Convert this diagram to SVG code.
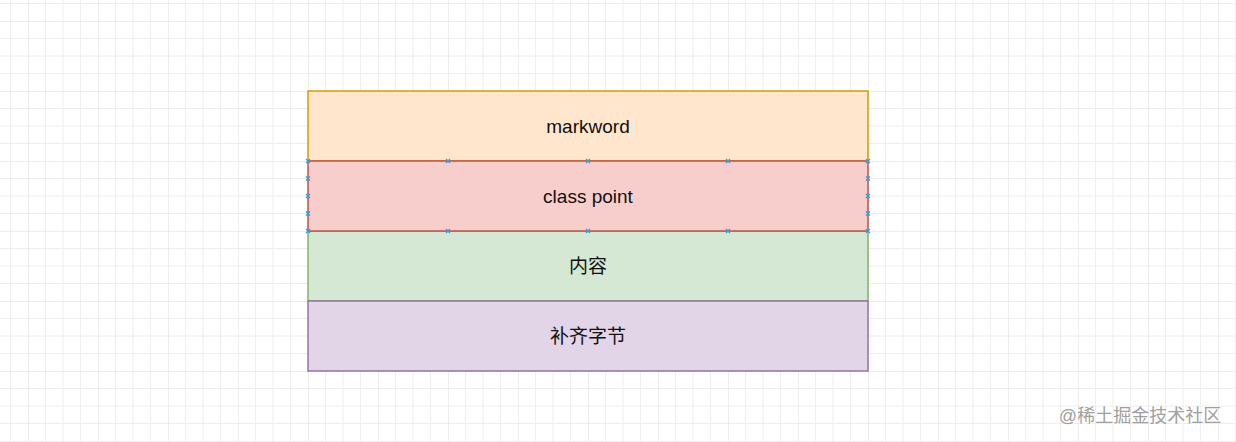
<svg xmlns="http://www.w3.org/2000/svg" width="1236" height="442" viewBox="0 0 1236 442">
<defs>
<pattern id="g" width="70" height="70" patternUnits="userSpaceOnUse" x="308" y="91">
<path d="M0 0H70M0 17.5H70M0 35H70M0 52.5H70M0 0V70M17.5 0V70M35 0V70M52.5 0V70" stroke="#eeeeee" stroke-width="1" fill="none"/>
<path d="M0 0H70M0 0V70" stroke="#e2e2e2" stroke-width="1" fill="none"/>
</pattern>
<path id="x" d="M-2 -2L2 2M-2 2L2 -2" stroke="#3a9bd9" stroke-width="1.2"/>
</defs>
<style>
text{font-family:"Liberation Sans","Noto Sans CJK SC",sans-serif;font-size:19px;fill:#111;text-anchor:middle;dominant-baseline:central}
</style>
<rect width="1236" height="442" fill="#fff"/>
<rect width="1236" height="442" fill="url(#g)"/>
<g id="n1"><rect x="308" y="91" width="560" height="70" fill="#ffe6cc" stroke="#d79b00" stroke-width="1.5"/><text x="588" y="126">markword</text></g>
<g id="n3"><rect x="308" y="231" width="560" height="70" fill="#d5e8d4" stroke="#82b366" stroke-width="1.5"/><text x="588" y="266">内容</text></g>
<g id="n4"><rect x="308" y="301" width="560" height="70" fill="#e1d5e7" stroke="#9673a6" stroke-width="1.5"/><text x="588" y="336">补齐字节</text></g>
<g id="n2"><rect x="308" y="161" width="560" height="70" fill="#f8cecc" stroke="#b85450" stroke-width="1.5"/><text x="588" y="196">class point</text>
<use href="#x" x="308" y="161"/><use href="#x" x="448" y="161"/><use href="#x" x="588" y="161"/><use href="#x" x="728" y="161"/><use href="#x" x="868" y="161"/>
<use href="#x" x="308" y="231"/><use href="#x" x="448" y="231"/><use href="#x" x="588" y="231"/><use href="#x" x="728" y="231"/><use href="#x" x="868" y="231"/>
<use href="#x" x="308" y="178.5"/><use href="#x" x="308" y="196"/><use href="#x" x="308" y="213.5"/>
<use href="#x" x="868" y="178.5"/><use href="#x" x="868" y="196"/><use href="#x" x="868" y="213.5"/>
</g>
<g id="connectors"/>
<text x="1140" y="416" style="font-size:18px;fill:#a0a0a0">@稀土掘金技术社区</text>
</svg>
